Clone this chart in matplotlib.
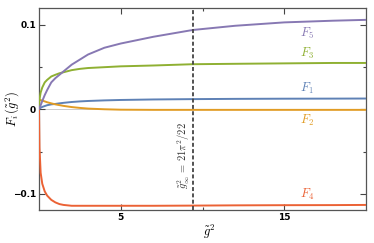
import matplotlib
matplotlib.use("Agg")
import matplotlib.pyplot as plt
import numpy as np

plt.rcParams['mathtext.fontset'] = 'cm'

# data
x_vals = [0, 0.03, 0.1, 0.2, 0.35, 0.5, 0.75, 1, 1.25, 1.5, 2, 2.5, 3, 4, 5, 6, 7, 9.4,
          12, 15, 18, 20]
F1 = [0, 0.001, 0.002, 0.003, 0.004, 0.005, 0.006, 0.0065, 0.0072, 0.0078, 0.0088, 0.0095,
      0.010, 0.0107, 0.0112, 0.0115, 0.0118, 0.0122, 0.0125, 0.0127, 0.0128, 0.0129]
F2 = [0.0115, 0.0115, 0.011, 0.0105, 0.0095, 0.0085, 0.0072, 0.006, 0.0051, 0.0042, 0.0028,
      0.0018, 0.001, 0.0002, -0.0003, -0.0004, -0.0005, -0.0005, -0.0005, -0.0005, -0.0005,
      -0.0005]
F3 = [0, 0.012, 0.020, 0.026, 0.032, 0.035, 0.039, 0.041, 0.0428, 0.044, 0.0465, 0.048,
      0.049, 0.050, 0.051, 0.0515, 0.052, 0.0535, 0.054, 0.0545, 0.055, 0.055]
F4 = [0, -0.045, -0.075, -0.088, -0.097, -0.102, -0.107, -0.110, -0.112, -0.113, -0.114,
      -0.114, -0.114, -0.114, -0.114, -0.114, -0.114, -0.1138, -0.1135, -0.1133, -0.1132,
      -0.113]
F5 = [0, 0.0015, 0.005, 0.010, 0.017, 0.023, 0.032, 0.037, 0.041, 0.045, 0.053, 0.059,
      0.065, 0.073, 0.078, 0.082, 0.086, 0.094, 0.099, 0.103, 0.105, 0.106]

series = [
    ("F_1", F1, "#5E81B5", 0.025),
    ("F_2", F2, "#E19C24", -0.013),
    ("F_3", F3, "#8FB032", 0.066),
    ("F_4", F4, "#EB6235", -0.101),
    ("F_5", F5, "#8778B3", 0.090),
]
g_cross = 21 * np.pi**2 / 22
x_major = [5, 15]
x_minor = [10]
y_major = [-0.1, 0, 0.1]
y_major_labels = ["\u22120.1", "0", "0.1"]
y_minor = [-0.05, 0.05]

fig = plt.figure(figsize=(3.74, 2.43), dpi=100)
ax = fig.add_axes([0.1043, 0.1358, 0.8743, 0.8312])

ax.axhline(0, color="#cccccc", lw=0.7, zorder=1)
for name, ys, col, ly in series:
    ax.plot(x_vals, ys, color=col, lw=1.4, zorder=3, solid_capstyle="butt",
            solid_joinstyle="round")
    ax.text(16.4, ly, "$" + name + "$", color=col, fontsize=9, ha="center", va="center")

ax.axvline(g_cross, color="#444444", lw=1.3, ls=(0, (2.2, 1.3)), zorder=4)
ax.text(g_cross - 0.55, -0.055, r"$\tilde{g}^2_{\infty}\,=\,21\pi^2/22$", rotation=90,
        fontsize=7.5, color="#333333", ha="center", va="center")

ax.set_xlim(0, 20)
ax.set_ylim(-0.119, 0.120)
ax.set_xticks(x_major)
ax.set_xticks(x_minor, minor=True)
ax.set_yticks(y_major)
ax.set_yticklabels(y_major_labels)
ax.set_yticks(y_minor, minor=True)
ax.tick_params(which="both", direction="in", top=True, right=True, color="#444444",
               labelsize=6.5, pad=2)
ax.tick_params(which="major", length=4.5, width=0.8)
ax.tick_params(which="minor", length=2.5, width=0.8)
for lab in ax.get_xticklabels() + ax.get_yticklabels():
    lab.set_fontweight("bold")
for s in ax.spines.values():
    s.set_color("#555555")
    s.set_linewidth(0.9)

ax.set_xlabel(r"$\tilde{g}^2$", fontsize=9)
ax.xaxis.set_label_coords(0.52, -0.065)
ax.set_ylabel(r"$F_i\,(\tilde{g}^2)$", fontsize=9)
ax.yaxis.set_label_coords(-0.055, 0.5)

fig.savefig("out.png", dpi=100)
